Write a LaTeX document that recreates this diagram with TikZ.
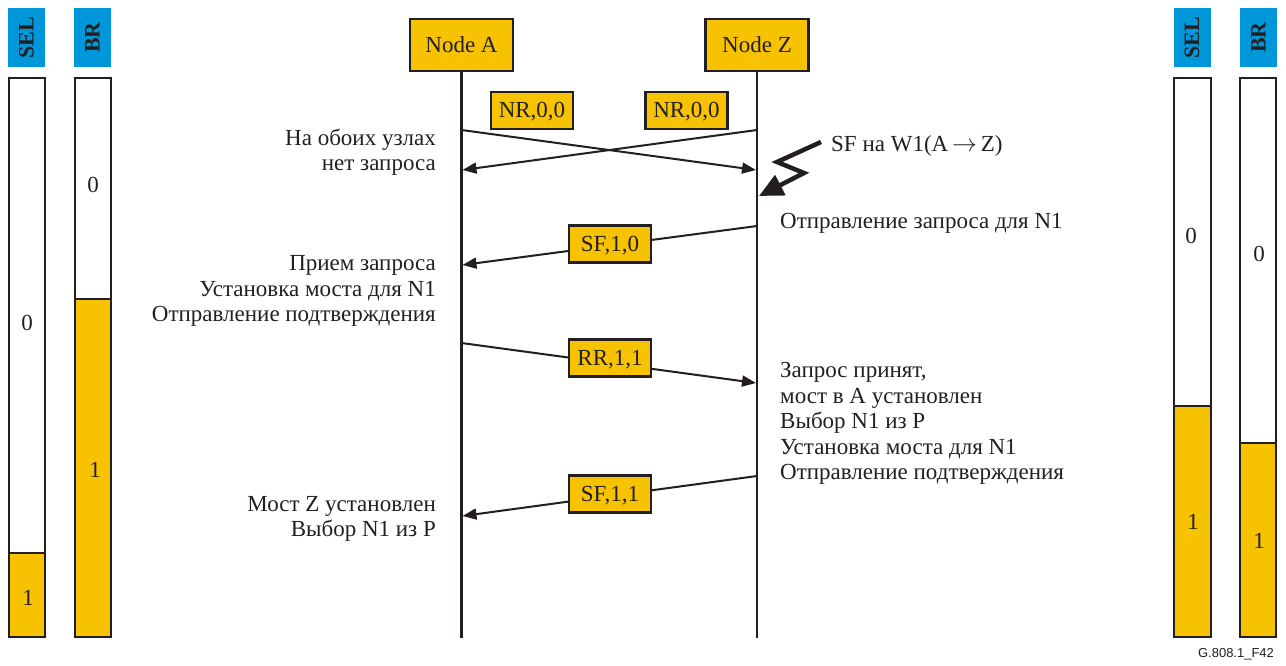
\documentclass[tikz,border=0pt]{standalone}
\usepackage{fontspec}
\setmainfont{Liberation Serif}
\newfontfamily\labfont{Liberation Sans}
\usetikzlibrary{arrows.meta}
\definecolor{goldfill}{RGB}{247,195,0}
\definecolor{bhead}{RGB}{0,150,218}
\definecolor{ink}{RGB}{35,31,32}
\tikzset{
  txt/.style={font=\fontsize{23}{25.5}\selectfont, inner sep=0pt, text=ink},
  hdr/.style={fill=bhead, draw=none, minimum width=37pt, minimum height=59pt, inner sep=0pt},
  hdrtxt/.style={font=\fontsize{22}{25}\selectfont\bfseries, rotate=90, text=ink, inner sep=0pt},
  bar/.style={draw=ink, line width=2.4pt},
  nodebox/.style={draw=ink, line width=2.4pt, fill=goldfill, minimum width=103pt, minimum height=52pt, inner sep=0pt, text height=15pt, text depth=0pt, font=\fontsize{23}{25}\selectfont, text=ink},
  msg/.style={draw=ink, line width=2.2pt, fill=goldfill, minimum width=82pt, minimum height=37pt, inner sep=0pt, text height=15pt, text depth=0pt, font=\fontsize{23}{25}\selectfont, text=ink},
  life/.style={draw=ink, line width=2.6pt},
  arr/.style={draw=ink, line width=2pt, -{Triangle[length=14pt,width=11pt]}},
}
\begin{document}
\begin{tikzpicture}[x=1pt,y=-1pt]
\useasboundingbox (0,0) rectangle (1286,666);
% ---- side bars: headers
\node[hdr] (hSELl) at (26.5,37.5) {};
\node[hdrtxt] at (hSELl) {SEL};
\node[hdr] (hBRl) at (92.5,37.5) {};
\node[hdrtxt] at (hBRl) {BR};
\node[hdr] (hSELr) at (1192,37.5) {};
\node[hdrtxt] at (hSELr) {SEL};
\node[hdr] (hBRr) at (1258.5,37.5) {};
\node[hdrtxt] at (hBRr) {BR};
% ---- left SEL bar
\path[fill=goldfill] (9,553) rectangle (45,637);
\draw[bar] (9,553) -- (45,553);
\draw[bar] (9,78) rectangle (45,637);
\node[txt] (sl0) at (27,323) {0};
\node[txt] (sl1) at (28,598) {1};
% ---- left BR bar
\path[fill=goldfill] (75,299) rectangle (111,637);
\draw[bar] (75,299) -- (111,299);
\draw[bar] (75,78) rectangle (111,637);
\node[txt] (bl0) at (93,185) {0};
\node[txt] (bl1) at (95,470) {1};
% ---- right SEL bar
\path[fill=goldfill] (1174,406) rectangle (1211,637);
\draw[bar] (1174,406) -- (1211,406);
\draw[bar] (1174,78) rectangle (1211,637);
\node[txt] (sr0) at (1191,236) {0};
\node[txt] (sr1) at (1193,522) {1};
% ---- right BR bar
\path[fill=goldfill] (1240,443) rectangle (1276,637);
\draw[bar] (1240,443) -- (1276,443);
\draw[bar] (1240,78) rectangle (1276,637);
\node[txt] (br0) at (1259,254) {0};
\node[txt] (br1) at (1259,541) {1};
% ---- nodes
\node[nodebox] (A) at (461.5,45) {Node A};
\node[nodebox] (Z) at (757,45) {Node Z};
\coordinate (Aend) at (461.5,638);
\coordinate (Zend) at (757,638);
\draw[life] (A.south) -- (Aend);
\draw[life] (Z.south) -- (Zend);
% ---- message points
\coordinate (a1) at (461.5,130);
\coordinate (z1) at (756,170);
\coordinate (z2) at (757,130);
\coordinate (a2) at (462.5,170);
\coordinate (z3) at (757,226);
\coordinate (a3) at (462.5,265);
\coordinate (a4) at (461.5,343);
\coordinate (z4) at (756,383);
\coordinate (z5) at (757,476);
\coordinate (a5) at (462.5,516);
\draw[arr] (a1) -- (z1);
\draw[arr] (z2) -- (a2);
\draw[arr] (z3) -- (a3);
\draw[arr] (a4) -- (z4);
\draw[arr] (z5) -- (a5);
% ---- message boxes
\node[msg] (nr1) at (532,110.5) {NR,0,0};
\node[msg] (nr2) at (686.5,110.5) {NR,0,0};
\node[msg] (sf10) at (610,244) {SF,1,0};
\node[msg] (rr11) at (610,358) {RR,1,1};
\node[msg] (sf11) at (610,494) {SF,1,1};
% ---- signal failure lightning
\coordinate (l0) at (821,142);
\coordinate (l1) at (777,162);
\coordinate (l2) at (804,173);
\coordinate (l3) at (759,196);
\draw[draw=ink, line width=4.5pt, line join=miter, -{Triangle[length=24pt,width=22pt]}] (l0) -- (l1) -- (l2) -- (l3);
\node[txt, anchor=west] (sf) at (831,146) {SF на W1(A\,$\rightarrow$\,Z)};
% ---- texts left
\node[txt, anchor=east, align=right] (t1) at (436,152) {На обоих узлах\\нет запроса};
\node[txt, anchor=east, align=right] (t2) at (436,291) {Прием запроса\\Установка моста для N1\\Отправление подтверждения};
\node[txt, anchor=east, align=right] (t3) at (436,519) {Мост Z установлен\\Выбор N1 из P};
% ---- texts right
\node[txt, anchor=west] (t4) at (780,223) {Отправление запроса для N1};
\node[txt, anchor=west, align=left] (t5) at (780,423.5) {Запрос принят,\\мост в А установлен\\Выбор N1 из P\\Установка моста для N1\\Отправление подтверждения};
% ---- figure id
\node[font=\labfont\fontsize{13}{15}\selectfont, text=ink, inner sep=0pt] (fid) at (1236,654) {G.808.1\_F42};
\end{tikzpicture}
\end{document}
